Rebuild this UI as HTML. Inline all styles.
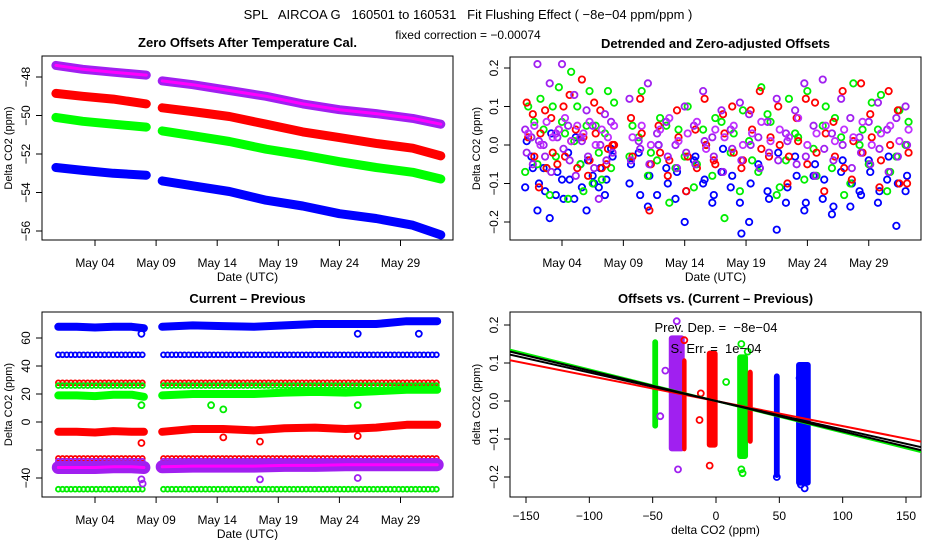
<!DOCTYPE html>
<html><head><meta charset="utf-8"><style>
body{margin:0;background:#fff;}
svg{display:block;font-family:"Liberation Sans",sans-serif;}
text{white-space:pre;}
</style></head><body>
<svg id="c" width="936" height="540" viewBox="0 0 936 540">
<text x="468" y="19" text-anchor="middle" font-size="13">SPL   AIRCOA G   160501 to 160531   Fit Flushing Effect ( −8e−04 ppm/ppm )</text>
<text x="468" y="39" text-anchor="middle" font-size="12">fixed correction = −0.00074</text>
</svg>
<script>
// ---------- data ----------
const dateTicks = [4, 9, 14, 19, 24, 29];
const dateLabels = ["May 04","May 09","May 14","May 19","May 24","May 29"];
const gapDay = 9;
// panel 1: zero offsets (ppm) at knot times
const p1Times = [0.8, 3, 5.5, 8.2, 9.5, 12, 15, 18, 21, 24, 27, 30, 32.3];
const p1Purple = [-47.4, -47.6, -47.75, -47.9, -48.2, -48.4, -48.7, -49.0, -49.4, -49.7, -49.9, -50.15, -50.45];
const p1Red    = [-48.85, -49.0, -49.15, -49.4, -49.6, -49.8, -50.05, -50.45, -50.85, -51.15, -51.45, -51.7, -52.1];
const p1Green  = [-50.1, -50.3, -50.45, -50.6, -50.8, -51.05, -51.35, -51.75, -52.05, -52.4, -52.7, -52.95, -53.3];
const p1Blue   = [-52.7, -52.85, -53.0, -53.1, -53.4, -53.65, -53.95, -54.4, -54.7, -55.1, -55.35, -55.7, -56.2];
const p1Ticks = [-48, -50, -52, -54, -56];
// panel 2: detrended offsets
const p2Times = [1,1.5,2,2.5,3,3.5,4,4.5,5,5.5,6,6.5,7,7.5,8,
 9.5,10.25,11,11.75,12.5,13.25,14,14.75,15.5,16.25,17,17.75,18.5,19.25,20,20.75,21.5,22.25,23,23.75,24.5,25.25,26,26.75,27.5,28.25,29,29.75,30.5,31.25,32];
const p2BlueA = [-0.11,-0.03,-0.17,-0.06,-0.19,-0.13,-0.09,-0.02,-0.14,-0.05,-0.17,-0.08,-0.11,-0.13,-0.01,
 -0.10,-0.02,-0.16,-0.13,-0.06,-0.14,-0.20,-0.04,-0.10,-0.15,-0.07,-0.11,-0.15,-0.20,-0.05,-0.12,-0.22,-0.15,-0.03,-0.17,-0.08,-0.14,-0.18,-0.07,-0.16,-0.12,-0.04,-0.15,-0.09,-0.21,-0.12];
const p2BlueB = [0.01,-0.06,-0.10,-0.12,0.03,-0.07,-0.14,-0.09,0.02,-0.11,-0.04,-0.10,-0.06,-0.09,-0.03,
 -0.05,-0.13,-0.08,0.00,-0.10,-0.07,-0.12,-0.03,-0.09,-0.13,-0.01,-0.08,-0.23,-0.10,-0.06,-0.14,-0.02,-0.11,-0.08,-0.15,-0.05,-0.09,-0.16,-0.04,-0.10,-0.13,-0.07,-0.12,-0.03,-0.10,-0.08];
const p2GreenA = [0.10,0.06,0.12,-0.06,0.10,0.15,0.03,0.19,0.10,-0.12,0.14,0.05,-0.09,0.14,0.11,
 0.05,0.14,-0.02,0.07,-0.15,0.04,0.10,-0.05,0.00,0.07,-0.19,0.03,0.09,-0.04,0.15,0.06,-0.11,0.12,0.02,0.14,-0.08,0.10,0.07,-0.13,0.16,0.04,0.11,0.13,-0.07,0.09,0.06];
const p2GreenB = [-0.07,0.02,-0.05,0.04,-0.13,-0.03,0.06,-0.14,0.01,-0.05,0.05,-0.10,-0.02,0.03,-0.06,
 -0.03,0.02,-0.08,-0.04,0.05,-0.06,-0.03,-0.11,0.04,-0.08,0.06,-0.02,-0.12,0.01,-0.07,0.08,-0.13,-0.04,0.03,-0.09,-0.01,0.05,-0.06,0.02,-0.10,0.00,-0.05,0.04,-0.12,-0.03,0.00];
const p2RedA = [0.11,0.08,-0.11,0.09,0.07,-0.05,0.10,0.13,0.04,0.17,-0.08,0.11,0.09,-0.05,0.00,
 0.07,0.12,-0.17,0.05,-0.08,0.09,-0.12,0.04,0.12,-0.04,0.08,0.10,-0.06,0.09,0.14,-0.03,0.10,-0.10,0.07,0.12,0.11,-0.12,0.06,0.14,-0.09,0.16,0.08,-0.11,0.14,0.09,-0.10];
const p2RedB = [0.02,-0.03,0.03,-0.06,-0.02,0.04,-0.03,0.01,-0.06,0.02,-0.04,0.03,-0.06,-0.01,0.00,
 -0.03,0.03,-0.05,-0.02,-0.04,0.02,-0.03,-0.06,0.00,-0.05,0.03,-0.02,-0.04,0.04,-0.01,0.02,0.00,-0.03,0.01,-0.05,-0.02,0.03,-0.03,-0.06,0.01,-0.02,0.02,-0.04,0.00,-0.10,-0.02];
const p2PurpleA = [0.04,0.02,0.21,0.00,0.16,0.03,0.21,0.05,0.13,0.02,0.09,0.05,-0.14,0.08,0.06,
 0.12,0.01,0.16,0.03,0.06,0.00,0.10,0.05,0.14,0.02,0.09,0.04,0.11,0.08,0.02,0.06,0.12,0.03,0.09,0.16,0.05,0.17,0.03,0.12,0.07,0.02,0.06,0.11,0.04,0.07,0.10];
const p2PurpleB = [-0.02,-0.05,0.01,-0.03,-0.07,0.02,-0.01,-0.04,-0.08,0.01,-0.03,-0.06,0.00,-0.04,-0.02,
 -0.04,-0.01,-0.05,0.00,-0.03,-0.06,-0.02,-0.05,0.01,-0.03,-0.07,-0.01,-0.04,0.00,-0.06,-0.02,-0.04,0.01,-0.05,-0.03,-0.08,-0.01,-0.04,0.00,-0.06,-0.02,-0.05,-0.01,-0.07,-0.03,0.00];
const p2PurpleC = [0.03,0.05,0.00,0.06,0.02,0.04,0.07,0.01,0.05,0.03,0.06,0.00,0.04,0.02,0.05,
 0.02,0.05,0.00,0.04,0.07,0.01,0.03,0.06,-0.01,0.04,0.02,0.05,0.00,0.03,0.06,0.01,0.04,0.02,0.07,0.00,0.03,0.05,0.01,0.04,0.02,0.06,0.00,0.03,0.05,0.01,0.04];
const p2Ticks = [0.2, 0.1, 0.0, -0.1, -0.2];
const p2TickLabels = ["0.2","0.1","0.0","−0.1","−0.2"];
// panel 3: current - previous
const p3Times = [1, 2.5, 4, 5.5, 7, 8, 9.5, 12, 14.5, 17, 19.5, 22, 24.5, 27, 29.5, 32];
const p3Blue   = [68, 68, 67.5, 68, 68, 67, 68, 69, 68.5, 68, 69, 70, 70, 70, 72, 72];
const p3Green  = [19, 19, 18.5, 19.5, 19.5, 18, 19, 20, 20, 20, 21, 21.5, 21, 22, 23, 23];
const p3Red    = [-7, -7, -7.5, -6.5, -7, -7, -7, -5, -5, -6, -4.5, -4, -5, -4, -2, -2];
const p3Purple = [-32.5, -32.5, -32.5, -32, -32, -32.5, -32, -31.5, -31.5, -31.5, -31, -31, -30.5, -30.5, -30.5, -30.5];
const p3Levels = [48, 28, 26, -26, -28, -48];
const p3LevelColors = ["#0000ff","#ff0000","#00ee00","#ff0000","#a020f0","#00ee00"];
const p3OutT = [7.8, 13.5, 14.5, 25.5, 7.8, 14.5, 17.5, 25.5, 7.8, 25.5, 30.5, 7.8, 7.9, 17.5, 25.5];
const p3OutV = [12, 12, 9, 12, -15, -11, -14, -10, 63, 63, 63, -41, -44, -41, -40];
const p3OutC = ["#00ee00","#00ee00","#00ee00","#00ee00","#ff0000","#ff0000","#ff0000","#ff0000","#0000ff","#0000ff","#0000ff","#a020f0","#a020f0","#a020f0","#a020f0"];
const p3Ticks = [60, 40, 20, 0, -20, -40];
const p3TickLabels = ["60","40","20","0","","−40"];
// panel 4: offsets vs current-previous
const stripX  = [-48, -31, -25, -3, 21, 27, 48, 69];
const stripW  = [3, 11, 2, 7, 7, 2.5, 3, 10];
const stripLo = [-0.07, -0.13, -0.13, -0.12, -0.15, -0.11, -0.20, -0.22];
const stripHi = [0.16, 0.17, 0.11, 0.13, 0.12, 0.08, 0.07, 0.10];
const stripC  = ["#00ee00","#a020f0","#ff0000","#ff0000","#00ee00","#ff0000","#0000ff","#0000ff"];
const p4OutX = [-31, -30, -40, -44, -12, -13, -5, -25, 8, 20, 20, 25, 48, 67, 70, 66, 21];
const p4OutY = [0.21, -0.18, 0.08, -0.04, 0.02, -0.05, -0.17, 0.16, 0.05, -0.18, 0.15, 0.13, -0.20, -0.22, -0.23, 0.06, -0.19];
const p4OutC = ["#a020f0","#a020f0","#a020f0","#a020f0","#ff0000","#ff0000","#ff0000","#ff0000","#00ee00","#00ee00","#00ee00","#00ee00","#0000ff","#0000ff","#0000ff","#0000ff","#00ee00"];
const fitSlopes = [-0.00066, -0.00083, -0.00075, -0.0008];
const fitColors = ["#ff0000", "#00ee00", "#000000", "#000000"];
const p4XTicks = [-150, -100, -50, 0, 50, 100, 150];
const p4XLabels = ["−150","−100","−50","0","50","100","150"];

// ---------- drawing ----------
const svg = document.getElementById('c');
const NS = 'http://www.w3.org/2000/svg';
function mk(tag, attrs, parent) {
  const e = document.createElementNS(NS, tag);
  for (const k in attrs) e.setAttribute(k, attrs[k]);
  (parent || svg).appendChild(e);
  return e;
}
function txt(x, y, s, size, anchor, weight, rot) {
  const t = mk('text', {x: x, y: y, 'font-size': size, 'text-anchor': anchor || 'middle'});
  if (weight) t.setAttribute('font-weight', weight);
  if (rot) t.setAttribute('transform', 'rotate(-90 ' + x + ' ' + y + ')');
  t.textContent = s;
  return t;
}
function panel(name, L, T, R, B, title) {
  const g = mk('g', {});
  
  
  const r = mk('rect', {x: L, y: T, width: R - L, height: B - T, fill: 'none', stroke: '#000', 'stroke-width': 1});
  
  
  const tt = txt((L + R) / 2, T - 9, title, 13, 'middle', 'bold');
  
  
  return g;
}
function dateAxis(B, L, R, xs) {
  for (let i = 0; i < dateTicks.length; i++) {
    const x = xs(dateTicks[i]);
    mk('line', {x1: x, y1: B, x2: x, y2: B + 6, stroke: '#000'});
    const t = txt(x, B + 27, dateLabels[i], 12);
    
    
  }
  const xt = txt((L + R) / 2, B + 41, 'Date (UTC)', 12);
  
  
}
function yAxis(L, T, B, ticks, labels, ys, title) {
  for (let i = 0; i < ticks.length; i++) {
    const y = ys(ticks[i]);
    mk('line', {x1: L - 6, y1: y, x2: L, y2: y, stroke: '#000'});
    if (labels[i]) {
      const t = txt(L - 12, y, labels[i], 12, 'middle', null, true);
      
      
    }
  }
  const yt = txt(L - 30, (T + B) / 2, title, 11, 'middle', null, true);
  
  
}
function circ(x, y, c, r) {
  return mk('circle', {cx: x, cy: y, r: r || 2.6, fill: 'none', stroke: c, 'stroke-width': 1.8});
}
function band(times, vals, xs, ys, color, w) {
  let seg = [];
  const segs = [];
  for (let i = 0; i < times.length; i++) {
    if (i > 0 && times[i - 1] < gapDay && times[i] >= gapDay) { segs.push(seg); seg = []; }
    seg.push(xs(times[i]).toFixed(1) + ',' + ys(vals[i]).toFixed(1));
  }
  segs.push(seg);
  segs.forEach(s => {
    const p = mk('polyline', {points: s.join(' '), fill: 'none', stroke: color, 'stroke-width': w, 'stroke-linecap': 'round', 'stroke-linejoin': 'round'});
    
    
  });
}

// Panel 1
(function () {
  const L = 42, T = 56, R = 453, B = 240;
  const xs = t => 95 + (t - 4) * 12.22;
  const ys = v => 77 + (-48 - v) * 19.25;
  panel('panel-zero-offsets', L, T, R, B, 'Zero Offsets After Temperature Cal.');
  band(p1Times, p1Purple, xs, ys, '#a020f0', 9);
  band(p1Times, p1Purple, xs, ys, '#ff00ff', 3);
  band(p1Times, p1Red, xs, ys, '#ff0000', 9);
  band(p1Times, p1Green, xs, ys, '#00ff00', 9);
  band(p1Times, p1Blue, xs, ys, '#0000ff', 9);
  dateAxis(B, L, R, xs);
  yAxis(L, T, B, p1Ticks, p1Ticks.map(v => '−' + Math.abs(v)), ys, 'Delta CO2 (ppm)');
})();

// Panel 2
(function () {
  const L = 510, T = 57, R = 921, B = 240;
  const xs = t => 562 + (t - 4) * 12.27;
  const ys = v => 145 - v * 385;
  panel('panel-detrended', L, T, R, B, 'Detrended and Zero-adjusted Offsets');
  const sets = [[p2BlueA,'#0000ff'],[p2BlueB,'#0000ff'],[p2GreenA,'#00ee00'],[p2GreenB,'#00ee00'],
    [p2RedA,'#ff0000'],[p2RedB,'#ff0000'],[p2PurpleA,'#a020f0'],[p2PurpleB,'#a020f0'],[p2PurpleC,'#c030ff']];
  sets.forEach(([arr, c], k) => {
    for (let i = 0; i < p2Times.length && i < arr.length; i++) {
      const p = circ(xs(p2Times[i]) + (k % 3) * 1.5, ys(arr[i]), c, 3.2);
      
      
    }
  });
  dateAxis(B, L, R, xs);
  yAxis(L, T, B, p2Ticks, p2TickLabels, ys, 'Delta CO2 (ppm)');
})();

// Panel 3
(function () {
  const L = 42, T = 312, R = 453, B = 497;
  const xs = t => 95 + (t - 4) * 12.22;
  const ys = v => 422 - v * 1.4;
  panel('panel-current-previous', L, T, R, B, 'Current \u2013 Previous');
  for (let k = 0; k < p3Levels.length; k++) {
    const y = ys(p3Levels[k]);
    [[1, 8.1], [9.6, 32.2]].forEach(([a, b]) => {
      for (let x = xs(a); x <= xs(b); x += 4.2) {
        const p = circ(x, y, p3LevelColors[k], 2.4);
        
        
      }
    });
  }
  band(p3Times, p3Purple, xs, ys, '#a020f0', 13);
  band(p3Times, p3Purple, xs, ys, '#ff00ff', 3);
  band(p3Times, p3Blue, xs, ys, '#0000ff', 8);
  band(p3Times, p3Green, xs, ys, '#00ff00', 8);
  band(p3Times, p3Red, xs, ys, '#ff0000', 8);
  for (let i = 0; i < p3OutT.length; i++) {
    const p = circ(xs(p3OutT[i]), ys(p3OutV[i]), p3OutC[i], 3);
    
    
  }
  dateAxis(B, L, R, xs);
  yAxis(L, T, B, p3Ticks, p3TickLabels, ys, 'Delta CO2 (ppm)');
})();

// Panel 4
(function () {
  const L = 510, T = 312, R = 921, B = 497;
  const xs = v => 716 + v * 1.2667;
  const ys = v => 401 - v * 380;
  panel('panel-offsets-vs-diff', L, T, R, B, 'Offsets vs. (Current \u2013 Previous)');
  for (let i = 0; i < stripX.length; i++) {
    const r = mk('rect', {x: xs(stripX[i] - stripW[i] / 2), y: ys(stripHi[i]), width: stripW[i] * 1.2667, height: ys(stripLo[i]) - ys(stripHi[i]), fill: stripC[i], stroke: stripC[i], 'stroke-width': 2, rx: 2});
    
    
  }
  for (let i = 0; i < p4OutX.length; i++) {
    const p = circ(xs(p4OutX[i]), ys(p4OutY[i]), p4OutC[i], 3);
    
    
  }
  const clip = mk('clipPath', {id: 'cp4'});
  mk('rect', {x: L, y: T, width: R - L, height: B - T}, clip);
  for (let i = 0; i < fitSlopes.length; i++) {
    const l = mk('line', {x1: xs(-170), y1: ys(-170 * fitSlopes[i]), x2: xs(170), y2: ys(170 * fitSlopes[i]), stroke: fitColors[i], 'stroke-width': 2, 'clip-path': 'url(#cp4)'});
    
    
  }
  const a = txt(716, 332, 'Prev. Dep. =  \u22128e\u221204', 13);
  
  
  const b = txt(716, 353, 'S. Err. =  1e\u221204', 13);
  
  
  for (let i = 0; i < p4XTicks.length; i++) {
    const x = xs(p4XTicks[i]);
    mk('line', {x1: x, y1: B, x2: x, y2: B + 6, stroke: '#000'});
    const t = txt(x, B + 23, p4XLabels[i], 12);
    
    
  }
  const xt = txt((L + R) / 2, B + 37, 'delta CO2 (ppm)', 12);
  
  
  yAxis(L, T, B, p2Ticks, p2TickLabels, ys, 'delta CO2 (ppm)');
})();
</script>
</body></html>
